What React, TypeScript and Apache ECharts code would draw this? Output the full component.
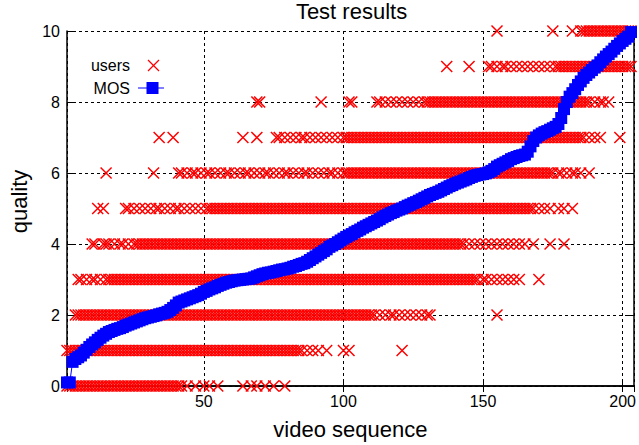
import React, { useEffect, useRef } from "react";
import * as echarts from "echarts";

const FONT = "'Liberation Sans', Arial, Helvetica, sans-serif";

// Axis ticks
const xTickLabels = [50, 100, 150, 200];
const yTickLabels = [0, 2, 4, 6, 8, 10];

// MOS per video (sorted), video sequence index starts at 1
const mosValues = [
  0.10,
  0.10, 0.68, 0.76, 0.81, 0.86, 0.94, 1.02, 1.10, 1.17, 1.23,
  1.30, 1.36, 1.42, 1.47, 1.52, 1.55, 1.58, 1.61, 1.63, 1.66,
  1.70, 1.73, 1.76, 1.79, 1.82, 1.85, 1.88, 1.91, 1.93, 1.95,
  1.97, 1.99, 2.02, 2.04, 2.06, 2.09, 2.14, 2.20, 2.27, 2.35,
  2.38, 2.41, 2.44, 2.47, 2.50, 2.53, 2.56, 2.60, 2.65, 2.68,
  2.72, 2.75, 2.78, 2.82, 2.85, 2.88, 2.91, 2.93, 2.95, 2.97,
  2.98, 2.99, 3.00, 3.01, 3.02, 3.03, 3.06, 3.09, 3.12, 3.15,
  3.17, 3.19, 3.20, 3.22, 3.24, 3.26, 3.28, 3.29, 3.31, 3.33,
  3.36, 3.38, 3.41, 3.44, 3.46, 3.50, 3.55, 3.60, 3.65, 3.70,
  3.75, 3.80, 3.85, 3.92, 3.96, 4.00, 4.05, 4.10, 4.15, 4.20,
  4.24, 4.28, 4.33, 4.37, 4.41, 4.46, 4.50, 4.54, 4.58, 4.62,
  4.66, 4.70, 4.75, 4.79, 4.83, 4.87, 4.90, 4.94, 4.97, 5.00,
  5.04, 5.08, 5.11, 5.15, 5.18, 5.22, 5.26, 5.30, 5.34, 5.38,
  5.41, 5.44, 5.47, 5.51, 5.55, 5.59, 5.63, 5.66, 5.70, 5.73,
  5.76, 5.79, 5.82, 5.86, 5.89, 5.92, 5.94, 5.96, 5.97, 5.99,
  6.02, 6.06, 6.11, 6.18, 6.22, 6.26, 6.30, 6.34, 6.39, 6.42,
  6.45, 6.48, 6.50, 6.52, 6.60, 6.75, 6.90, 7.00, 7.06, 7.11,
  7.15, 7.18, 7.22, 7.26, 7.30, 7.38, 7.55, 7.80, 8.00, 8.15,
  8.25, 8.36, 8.48, 8.58, 8.68, 8.76, 8.83, 8.90, 8.97, 9.03,
  9.12, 9.20, 9.28, 9.35, 9.42, 9.50, 9.58, 9.65, 9.72, 9.78,
  9.84, 9.97,
];

// Users' ratings: videos that received a given quality score.
// A number = one video; [a, b] = every video from a to b.
type Run = number | [number, number];
const usersQ0: Run[] = [[1, 42], 44, 47, 50, 52, 55, 64, 67, 69, 72, 75, 79];
const usersQ1: Run[] = [[1, 85], 87, 89, 91, 94, 100, 102, 121];
const usersQ2: Run[] = [[4, 111], 113, 115, 117, 118, 120, 122, 124, 126, 128, 130, 131, 155];
const usersQ3: Run[] = [5, 6, 8, 10, 11, 13, [15, 148], 150, 151, 153, 155, 157, 159, 161, 163, 170];
const usersQ4: Run[] = [10, 11, 14, 15, 16, 18, 20, 21, 23, 25, [26, 143], 145, 147, 149, 151, 153, 155, 157, 159, 161, 163, 165, 168, 174, 179];
const usersQ5: Run[] = [12, 14, 22, 23, 25, 27, 29, 31, 33, 34, 36, 38, 40, 41, 43, 45, 47, 49, 51, [52, 168], 170, 172, 174, 177, 179, 182];
const usersQ6: Run[] = [15, 32, 41, 42, 44, 46, 47, 49, 51, 52, 54, 56, 58, 59, 61, 63, 65, 66, 68, 70, 72, 73, 75, 77, 79, 80, 82, 84, 86, 87, 89, 91, 93, 95, 96, 98, 100, [101, 175], 177, 178, 180, 182, 183, 185, 188];
const usersQ7: Run[] = [34, 39, 64, 69, 76, 77, 79, 81, 83, 85, 86, 88, 90, 92, 94, 96, 98, [100, 186], 188, 190, 192, 199];
const usersQ8: Run[] = [69, 70, 92, 102, 103, 112, 113, 115, 117, 119, 121, 123, 125, 127, [129, 188], 190, 192, 193, 195];
const usersQ9: Run[] = [137, 145, 152, 153, 155, 157, 158, 160, 162, 164, 166, 168, 170, 172, 174, [176, 203]];
const usersQ10: Run[] = [155, 175, 182, [185, 203]];

const usersByQuality: Run[][] = [
  usersQ0, usersQ1, usersQ2, usersQ3, usersQ4, usersQ5,
  usersQ6, usersQ7, usersQ8, usersQ9, usersQ10,
];

function buildUsers(): number[][] {
  const out: number[][] = [];
  usersByQuality.forEach((runs, q) => {
    runs.forEach((r) => {
      if (Array.isArray(r)) {
        for (let v = r[0]; v <= r[1]; v++) out.push([v, q]);
      } else {
        out.push([r, q]);
      }
    });
  });
  return out;
}

const X_PATH = "path://M0,0L10,10M10,0L0,10";

export default function App() {
  const ref = useRef<HTMLDivElement>(null);

  useEffect(() => {
    if (!ref.current) return;
    const chart = echarts.init(ref.current, undefined, { renderer: "svg" });
    const usersData = buildUsers();
    const mosData = mosValues.map((v, i) => [i + 1, v]);

    const gridLine = { show: true, lineStyle: { color: "#000", width: 1, type: [3, 3] } };
    const axisLine = { show: true, lineStyle: { color: "#000", width: 1.5 } };
    const tick = { show: true, inside: true, length: 6, lineStyle: { color: "#000", width: 1 } };

    chart.setOption({
      animation: false,
      backgroundColor: "#fff",
      title: {
        text: "Test results",
        left: 351.5,
        top: 0,
        padding: 0,
        textAlign: "center",
        textStyle: { fontSize: 22, fontWeight: "normal", color: "#000", fontFamily: FONT },
      },
      grid: { left: 67, top: 31, right: 3, bottom: 59, containLabel: false },
      xAxis: [
        {
          type: "value",
          min: 1,
          max: 204,
          splitNumber: 4,
          name: "video sequence",
          nameLocation: "middle",
          nameGap: 32,
          nameTextStyle: { fontSize: 22, color: "#000", fontFamily: FONT },
          axisLine,
          axisTick: tick,
          splitLine: gridLine,
          axisLabel: {
            color: "#000",
            fontSize: 16,
            fontFamily: FONT,
            margin: 7,
            showMinLabel: false,
            showMaxLabel: false,
            formatter: (v: number) => (xTickLabels.indexOf(v) >= 0 ? String(v) : ""),
          },
        },
        {
          type: "value",
          min: 1,
          max: 204,
          splitNumber: 4,
          position: "top",
          axisLine,
          axisTick: tick,
          splitLine: { show: false },
          axisLabel: { show: false },
        },
      ],
      yAxis: [
        {
          type: "value",
          min: 0,
          max: 10,
          interval: 2,
          name: "quality",
          nameLocation: "middle",
          nameGap: 37,
          nameTextStyle: { fontSize: 22, color: "#000", fontFamily: FONT, padding: [0, 0, 0, 14] },
          axisLine,
          axisTick: tick,
          splitLine: gridLine,
          axisLabel: {
            color: "#000",
            fontSize: 16,
            fontFamily: FONT,
            margin: 7,
            formatter: (v: number) => (yTickLabels.indexOf(v) >= 0 ? String(v) : ""),
          },
        },
        {
          type: "value",
          min: 0,
          max: 10,
          interval: 2,
          position: "right",
          axisLine,
          axisTick: tick,
          splitLine: { show: false },
          axisLabel: { show: false },
        },
      ],
      series: [
        {
          name: "users",
          type: "scatter",
          xAxisIndex: 0,
          yAxisIndex: 0,
          data: usersData,
          symbol: X_PATH,
          symbolSize: 11,
          large: false,
          clip: false,
          itemStyle: { color: "rgba(255,0,0,0)", borderColor: "#ff0000", borderWidth: 1.5, opacity: 1 },
          emphasis: { disabled: true },
          z: 2,
        },
        {
          name: "MOS",
          type: "line",
          xAxisIndex: 0,
          yAxisIndex: 0,
          data: mosData,
          symbol: "rect",
          symbolSize: 12,
          showAllSymbol: true,
          clip: false,
          lineStyle: { color: "#0000ff", width: 1 },
          itemStyle: { color: "#0000ff", borderWidth: 0 },
          emphasis: { disabled: true },
          z: 3,
        },
      ],
      graphic: [
        {
          type: "text",
          x: 130,
          y: 65,
          style: { text: "users", align: "right", verticalAlign: "middle", fontSize: 16, fontFamily: FONT, fill: "#000" },
        },
        { type: "line", shape: { x1: 148, y1: 60, x2: 159, y2: 71 }, style: { stroke: "#ff0000", lineWidth: 1.2 } },
        { type: "line", shape: { x1: 159, y1: 60, x2: 148, y2: 71 }, style: { stroke: "#ff0000", lineWidth: 1.2 } },
        {
          type: "text",
          x: 130,
          y: 88.5,
          style: { text: "MOS", align: "right", verticalAlign: "middle", fontSize: 16, fontFamily: FONT, fill: "#000" },
        },
        { type: "line", shape: { x1: 138, y1: 88, x2: 164, y2: 88 }, style: { stroke: "#0000ff", lineWidth: 1 } },
        { type: "rect", shape: { x: 146.5, y: 82, width: 12, height: 12 }, style: { fill: "#0000ff" } },
      ],
    });
    return () => chart.dispose();
  }, []);

  return (
    <div
      ref={ref}
      style={{ position: "fixed", left: 0, top: 0, width: 639, height: 445, background: "#fff" }}
    />
  );
}
